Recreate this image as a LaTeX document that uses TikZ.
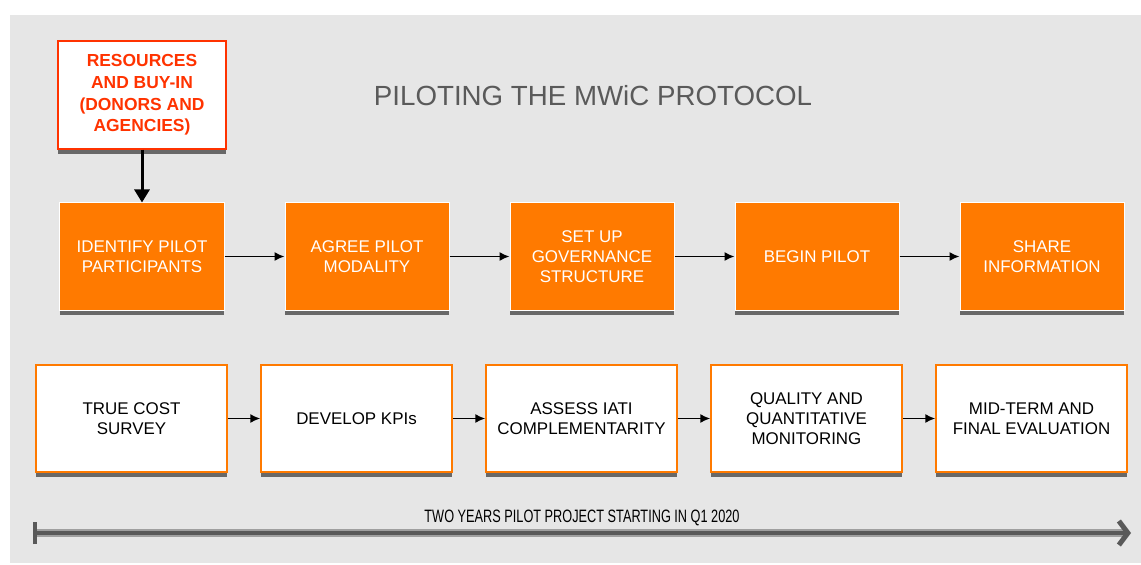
\documentclass[tikz,border=0pt]{standalone}
\usepackage{fontspec}
\setmainfont{Liberation Sans}
\usetikzlibrary{shadows,arrows.meta}
\definecolor{bg}{HTML}{E6E6E6}
\definecolor{orng}{HTML}{FF7A00}
\definecolor{redtxt}{HTML}{FF3300}
\definecolor{ttl}{HTML}{5A5A5A}
\tikzset{
  shad/.style={drop shadow={shadow xshift=0bp,shadow yshift=-5bp,opacity=0.7,fill=black!80}},
  obox/.style={shad,draw=white,line width=1bp,fill=orng,text=white,minimum width=164bp,minimum height=107bp,align=center,font=\fontsize{17}{20}\selectfont,inner sep=2bp},
  wbox/.style={shad,draw=orng,line width=1.5bp,fill=white,text=black,minimum width=191bp,minimum height=107bp,align=center,font=\fontsize{17}{20}\selectfont,inner sep=2bp},
  rbox/.style={shad,draw=redtxt,line width=1.5bp,fill=white,text=redtxt,minimum width=168bp,minimum height=108bp,align=center,font=\fontsize{17.5}{21.7}\selectfont\bfseries,inner sep=2bp},
  conn/.style={-{Latex[length=10bp,width=9bp]},line width=1.5bp,black},
  bigconn/.style={-{Triangle[length=13bp,width=15bp]},line width=3bp,black},
}
\begin{document}
\begin{tikzpicture}[x=1bp,y=-1bp]
\useasboundingbox (0,0) rectangle (1141,565);
\fill[bg] (10,15) rectangle (1141,563);
\node[text=ttl,font=\fontsize{27.8}{30}\selectfont] (title) at (593,96) {PILOTING THE MWiC PROTOCOL};
\node[rbox] (res) at (142,95) {RESOURCES\\AND BUY-IN\\(DONORS AND\\AGENCIES)};
\node[obox] (o1) at (142,256.5) {IDENTIFY PILOT\\PARTICIPANTS};
\node[obox] (o2) at (367,256.5) {AGREE PILOT\\MODALITY};
\node[obox] (o3) at (592,256.5) {SET UP\\GOVERNANCE\\STRUCTURE};
\node[obox] (o4) at (817,256.5) {BEGIN PILOT};
\node[obox] (o5) at (1042,256.5) {SHARE\\INFORMATION};
\node[wbox] (w1) at (131.5,418.5) {TRUE COST\\SURVEY};
\node[wbox] (w2) at (356.5,418.5) {DEVELOP KPIs};
\node[wbox] (w3) at (581.5,418.5) {ASSESS IATI\\COMPLEMENTARITY};
\node[wbox] (w4) at (806.5,418.5) {QUALITY AND\\QUANTITATIVE\\MONITORING};
\node[wbox] (w5) at (1031.5,418.5) {MID-TERM AND\\FINAL EVALUATION};
\draw[bigconn] (res) -- (o1);
\foreach \a/\b in {o1/o2,o2/o3,o3/o4,o4/o5,w1/w2,w2/w3,w3/w4,w4/w5}
  \draw[conn] (\a) -- (\b);
\coordinate (tl) at (33,533);
\coordinate (tr) at (1131,533);
\draw[line width=8bp,gray!75,line cap=butt] (tl) -- ([xshift=-8bp]tr);
\draw[line width=4bp,black!65,{Bar[width=22bp,line width=4bp]}-{Straight Barb[length=9bp,width=24bp,line width=5bp]}] (tl) -- (tr);
\node[font=\fontsize{18}{20}\selectfont,xscale=0.71,inner sep=0] (tline) at (582,518) {TWO YEARS PILOT PROJECT STARTING IN Q1 2020};
\end{tikzpicture}
\end{document}
